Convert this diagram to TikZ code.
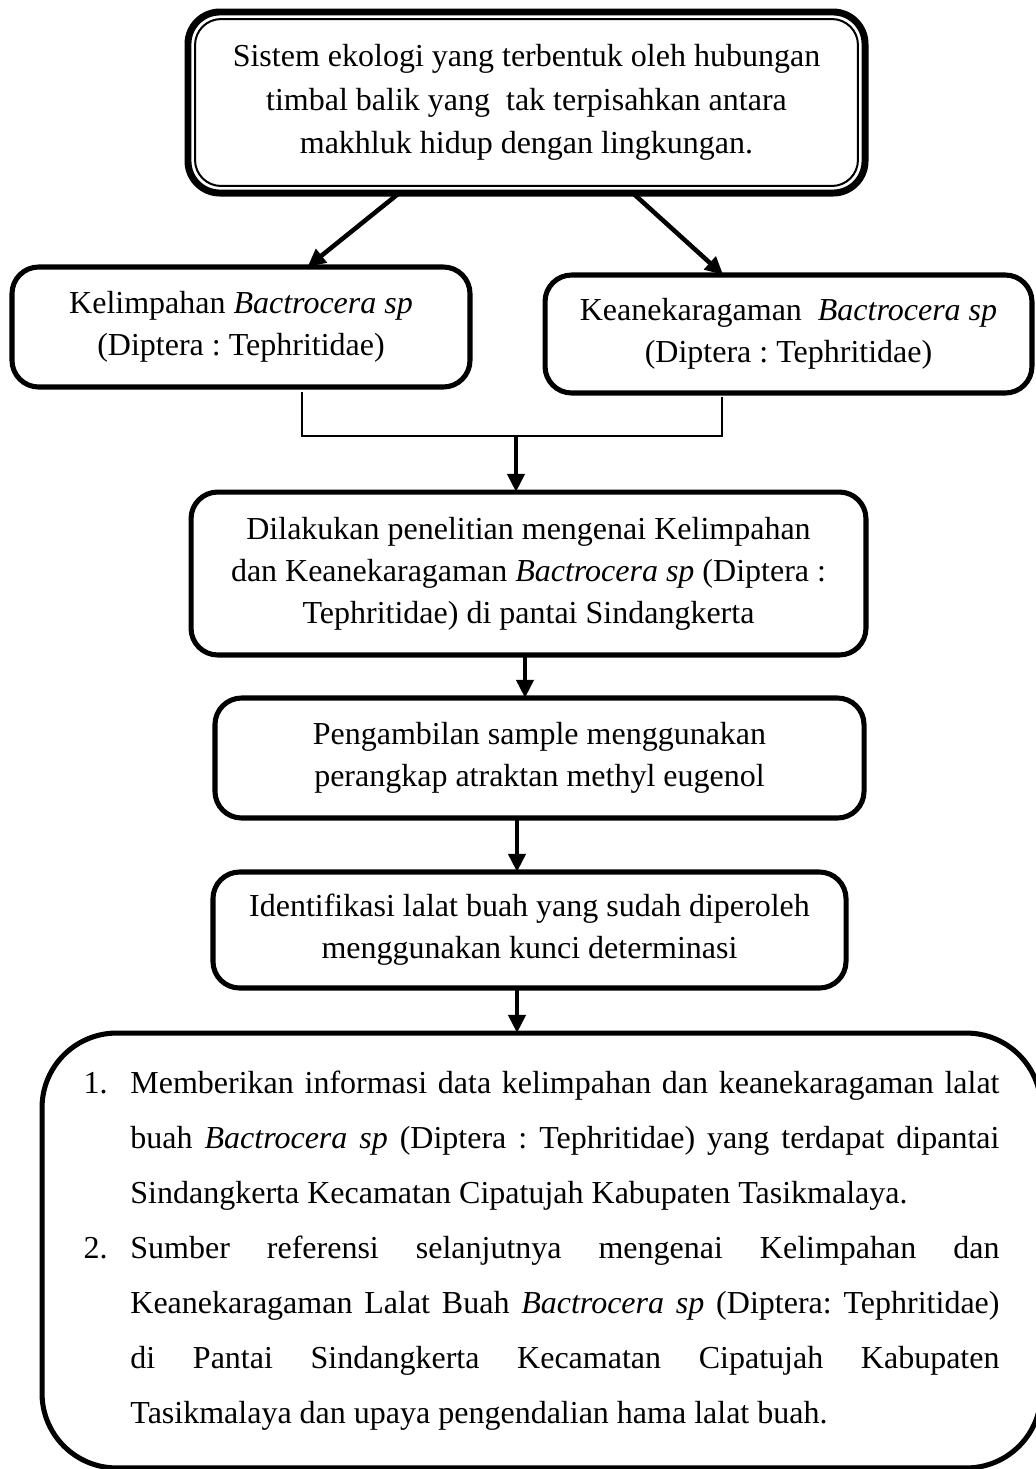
\documentclass[tikz,border=0pt]{standalone}
\usepackage{fontspec}
\setmainfont{Liberation Serif}
\usetikzlibrary{arrows.meta,calc}
\begin{document}
\frenchspacing
\begin{tikzpicture}[x=0.375pt,y=-0.375pt]
\tikzset{
  box/.style={draw, line width=1.9pt, rounded corners=10pt, inner sep=0pt, outer sep=0pt,
    align=center, font=\fontsize{12pt}{15.75pt}\selectfont},
  arr/.style={line width=1.7pt, -{Triangle[length=6.8pt,width=6.3pt]}},
  brk/.style={line width=1.1pt}
}
\useasboundingbox (0,0) rectangle (1036,1469);

\node[box, line width=2.6pt, rounded corners=12pt, minimum width=253.9pt, minimum height=67.9pt,
  font=\fontsize{12pt}{16.3pt}\selectfont]
  (top) at (526.5,102.5)
  {Sistem ekologi yang terbentuk oleh hubungan\\timbal balik yang\ \ tak terpisahkan antara\\makhluk hidup dengan lingkungan.};
\node[draw, line width=0.75pt, rounded corners=9.75pt, minimum width=248.6pt, minimum height=62.6pt,
  inner sep=0pt, outer sep=0pt] (topin) at (top.center) {};

\node[box, minimum width=171.75pt, minimum height=45pt] (kel) at (241,327)
  {Kelimpahan \textit{Bactrocera sp}\\(Diptera : Tephritidae)};
\node[box, minimum width=182.6pt, minimum height=44.25pt] (kea) at (788.5,334)
  {Keanekaragaman\ \ \textit{Bactrocera sp}\\(Diptera : Tephritidae)};

\node[box, minimum width=253.1pt, minimum height=61.1pt] (b3) at (528.5,573.5)
  {Dilakukan penelitian mengenai Kelimpahan\\dan Keanekaragaman \textit{Bactrocera sp} (Diptera :\\Tephritidae) di pantai Sindangkerta};
\node[box, minimum width=243.4pt, minimum height=45pt] (b4) at (539.5,758)
  {Pengambilan sample menggunakan\\perangkap atraktan methyl eugenol};
\node[box, minimum width=237.4pt, minimum height=43.5pt] (b5) at (529.5,930)
  {Identifikasi lalat buah yang sudah diperoleh\\menggunakan kunci determinasi};

\node[box, minimum width=374.6pt, minimum height=163.1pt, rounded corners=28pt,
  text width=343.5pt, align=justify, font=\fontsize{12pt}{20.6pt}\selectfont] (out) at (541.5,1250.5)
  {\noindent\hangindent=17.6pt\hangafter=1\makebox[17.6pt][l]{1.}Memberikan informasi data kelimpahan dan keanekaragaman lalat\linebreak
   buah \textit{Bactrocera sp} (Diptera : Tephritidae) yang terdapat dipantai\linebreak
   Sindangkerta Kecamatan Cipatujah Kabupaten Tasikmalaya.\par
   \noindent\hangindent=17.6pt\hangafter=1\makebox[17.6pt][l]{2.}Sumber referensi selanjutnya mengenai Kelimpahan dan\linebreak
   Keanekaragaman Lalat Buah \textit{Bactrocera sp} (Diptera: Tephritidae)\linebreak
   di Pantai Sindangkerta Kecamatan Cipatujah Kabupaten\linebreak
   Tasikmalaya dan upaya pengendalian hama lalat buah.\par};

\draw[arr] ($(top.south west)!0.312!(top.south east)$) -- ($(kel.north west)!0.645!(kel.north east)$);
\draw[arr] ($(top.south west)!0.657!(top.south east)$) -- ($(kea.north west)!0.366!(kea.north east)$);

\coordinate (br1) at (302,392);
\coordinate (br2) at (722,397);
\coordinate (v1) at (516,436);
\coordinate (v2) at (525,0);
\coordinate (v3) at (517,0);
\draw[brk] (br1) |- (v1) -| (br2);
\draw[arr] (v1) -- (b3.north -| v1);
\draw[arr] (b3.south -| v2) -- (b4.north -| v2);
\draw[arr] (b4.south -| v3) -- (b5.north -| v3);
\draw[arr] (b5.south -| v3) -- (out.north -| v3);
\end{tikzpicture}
\end{document}
